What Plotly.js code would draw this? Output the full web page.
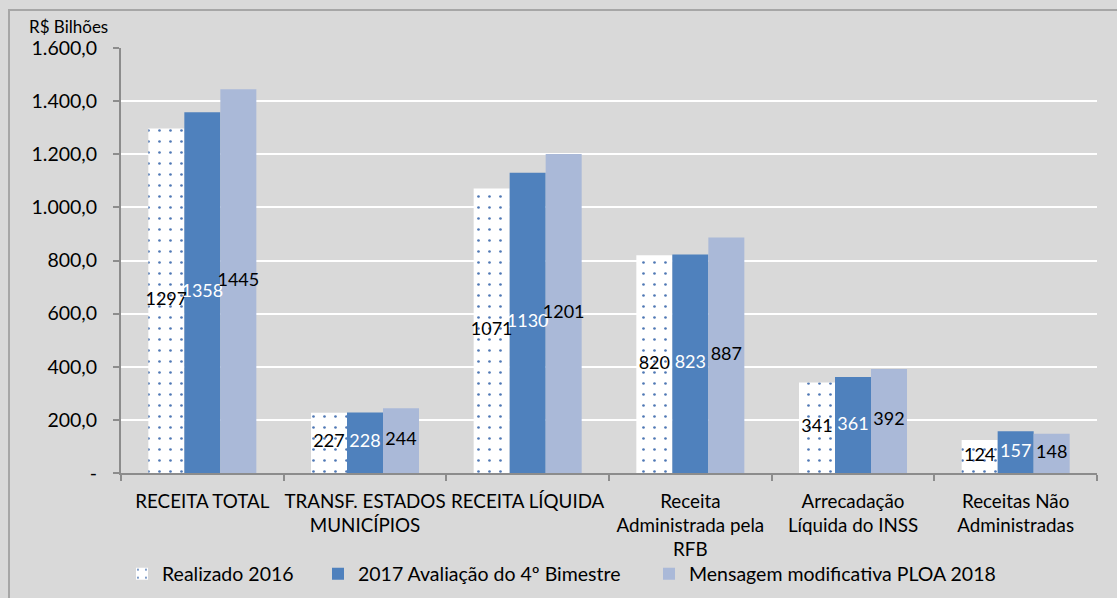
<!DOCTYPE html>
<html>
<head>
<meta charset="utf-8">
<script src="https://cdn.plot.ly/plotly-3.0.1.min.js"></script>
<style>
html,body{margin:0;padding:0;background:#d9d9d9;overflow:hidden;}
#chart{width:1117px;height:640px;}
</style>
</head>
<body>
<div id="chart"></div>
<script>
// ---- data ----
const categories = [
  'RECEITA TOTAL',
  'TRANSF. ESTADOS<br>MUNICÍPIOS',
  'RECEITA LÍQUIDA',
  'Receita<br>Administrada pela<br>RFB',
  'Arrecadação<br>Líquida do INSS',
  'Receitas Não<br>Administradas'
];
const seriesNames = ['Realizado 2016', '2017 Avaliação do 4º Bimestre', 'Mensagem modificativa PLOA 2018'];
const realizado2016 = [1297, 227, 1071, 820, 341, 124];
const avaliacao2017 = [1358, 228, 1130, 823, 361, 157];
const ploa2018 = [1445, 244, 1201, 887, 392, 148];
const yTickVals = [0, 200, 400, 600, 800, 1000, 1200, 1400, 1600];
const yTickText = ['-', '200,0', '400,0', '600,0', '800,0', '1.000,0', '1.200,0', '1.400,0', '1.600,0'];
const yUnit = 'R$ Bilhões';

// ---- chart ----
const FONT = 'Lato, "Open Sans", sans-serif';
const series = [realizado2016, avaliacao2017, ploa2018];
const labelColors = ['#000000', '#ffffff', '#000000'];
const markers = [
  {color: '#ffffff', line: {width: 0},
   pattern: {shape: '.', fgcolor: '#4f78b5', bgcolor: '#ffffff', size: 11, solidity: 0.045, fillmode: 'replace'}},
  {color: '#4f81bd', line: {width: 0}},
  {color: '#aab9d8', line: {width: 0}}
];
const legendIds = ['legend', 'legend2', 'legend3'];

const traces = [];
series.forEach((vals, i) => {
  traces.push({
    type: 'bar', name: seriesNames[i], x: categories, y: vals,
    marker: markers[i], legend: legendIds[i], offsetgroup: 'g' + i,
    hoverinfo: 'x+y'
  });
});
// data labels drawn on top of all bars, centred in each bar
series.forEach((vals, i) => {
  traces.push({
    type: 'scatter', mode: 'text', x: categories, y: vals.map(v => v / 2),
    text: vals.map(String), textposition: 'middle center',
    textfont: {family: FONT, size: 18, color: labelColors[i]},
    offsetgroup: 'g' + i, showlegend: false, cliponaxis: false, hoverinfo: 'skip'
  });
});

const W = 1117, H = 640, L = 121, R = 20, T = 48, B = 167;
const pw = W - L - R, ph = H - T - B;
const px2x = (px) => (px - L) / pw;
const py2y = (py) => (H - B - py) / ph;

const legendBase = {orientation: 'h', yanchor: 'middle', xanchor: 'left', bgcolor: 'rgba(0,0,0,0)',
  font: {family: FONT, size: 19.5, color: '#000000'}, borderwidth: 0, itemclick: false};

const layout = {
  width: W, height: H,
  margin: {l: L, r: R, t: T, b: B, pad: 0},
  paper_bgcolor: '#d9d9d9', plot_bgcolor: '#d9d9d9',
  barmode: 'group', bargap: 0.336, bargroupgap: 0,
  scattermode: 'group', scattergap: 0.336,
  font: {family: FONT, size: 19, color: '#000000'},
  showlegend: true,
  legend: Object.assign({}, legendBase, {x: px2x(122), y: py2y(574)}),
  legend2: Object.assign({}, legendBase, {x: px2x(318), y: py2y(574)}),
  legend3: Object.assign({}, legendBase, {x: px2x(649), y: py2y(574)}),
  xaxis: {
    type: 'category', showgrid: false, zeroline: false,
    showline: true, linecolor: '#8c8c8c', linewidth: 2,
    ticks: 'outside', tickson: 'boundaries', ticklen: 6, tickcolor: '#8c8c8c', tickwidth: 2,
    tickangle: 0, ticklabelstandoff: 10,
    tickfont: {family: FONT, size: 18.8, color: '#000000'}, automargin: false
  },
  yaxis: {
    range: [0, 1600], tickvals: yTickVals, ticktext: yTickText,
    showgrid: true, gridcolor: '#ffffff', gridwidth: 2, zeroline: false,
    showline: true, linecolor: '#8c8c8c', linewidth: 2,
    ticks: 'outside', ticklen: 6, tickcolor: '#8c8c8c', tickwidth: 2,
    ticklabelstandoff: 12,
    tickfont: {family: FONT, size: 19.5, color: '#000000'}, automargin: false
  },
  annotations: [{
    xref: 'paper', yref: 'paper', x: px2x(27), y: py2y(39), xanchor: 'left', yanchor: 'bottom',
    text: yUnit, showarrow: false, font: {family: FONT, size: 17, color: '#000000'}
  }],
  shapes: [{
    type: 'rect', xref: 'paper', yref: 'paper', layer: 'below',
    x0: px2x(9), y0: py2y(660), x1: px2x(1140), y1: py2y(10),
    line: {color: '#a6a6a6', width: 2}, fillcolor: 'rgba(0,0,0,0)'
  }]
};

Plotly.newPlot('chart', traces, layout, {displayModeBar: false, staticPlot: true});
</script>
</body>
</html>
